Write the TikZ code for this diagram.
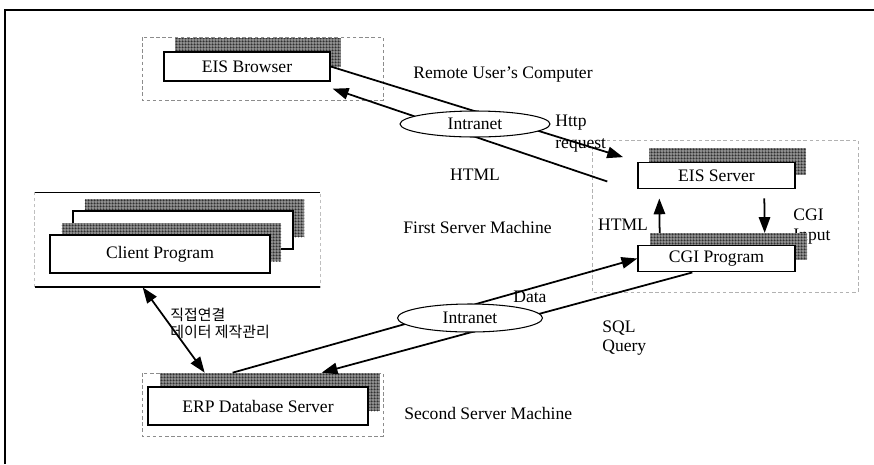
\documentclass[tikz,border=0pt]{standalone}
\usepackage{fontspec}
\setmainfont{Liberation Serif}
\newfontfamily\kofont{Noto Sans CJK KR}
\usetikzlibrary{arrows.meta,shapes.geometric,patterns.meta}

\tikzdeclarepattern{
  name=finegrid,
  type=uncolored,
  bounding box={(0pt,0pt) and (1.8pt,1.8pt)},
  tile size={(1.8pt,1.8pt)},
  code={
    \draw[line width=0.6pt] (0pt,0pt) -- (1.8pt,0pt) (0pt,0pt) -- (0pt,1.8pt);
  }
}

\begin{document}
\begin{tikzpicture}[
    x=0.02cm, y=-0.02cm,
    box/.style={draw, fill=white, line width=0.8pt, inner sep=0pt, font=\fontsize{10}{12}\selectfont},
    hatchbox/.style={preaction={fill=black!45}, pattern=finegrid, pattern color=black, inner sep=0pt},
    bsize/.style={minimum width=3.32cm, minimum height=0.58cm},
    ssize/.style={minimum width=3.14cm, minimum height=0.53cm},
    csize/.style={minimum width=4.4cm, minimum height=0.76cm},
    grpline/.style={draw=black!45, dash pattern=on 2pt off 1.5pt, line width=0.5pt},
    arrow/.style={-{Triangle[length=9pt,width=6.5pt]}, line width=1pt},
    twoway/.style={{Triangle[length=9pt,width=6.5pt]}-{Triangle[length=9pt,width=6.5pt]}, line width=1pt},
    net/.style={ellipse, draw, fill=white, line width=0.6pt, inner sep=0pt, font=\fontsize{10}{12}\selectfont},
    txt/.style={inner sep=0pt, font=\fontsize{10}{12}\selectfont},
    kotxt/.style={inner sep=0pt, align=left, font=\kofont\fontsize{8.5}{10}\selectfont}
]
\useasboundingbox (0,0) rectangle (874,464);

% outer frame
\draw[line width=0.8pt] (5,464) -- (5,10) -- (874,10);

% remote user's computer
\draw[grpline] (142,37) rectangle (383,100);
\node[hatchbox, bsize] (browsershade) at (258,52.5) {};
\node[box, bsize] (browser) at (247,66.5) {EIS Browser};
\node[txt, anchor=west] (remote) at (413,75) {Remote User's Computer};

% first server machine
\draw[grpline, draw=black!30] (592,140) rectangle (858,292);
\node[hatchbox, ssize] (eisshade) at (727.5,161.5) {};
\node[box, ssize] (eis) at (716.5,175.5) {EIS Server};
\node[txt, anchor=west] (cgiin1) at (793,215) {CGI};
\node[txt, anchor=west] (cgiin2) at (793,237) {Input};
\node[hatchbox, ssize] (cgishade) at (728.5,246.5) {};
\node[box, ssize] (cgi) at (716.5,258.5) {CGI Program};
\node[txt] (htmlup) at (623,225) {HTML};
\node[txt, anchor=west] (first) at (403,227) {First Server Machine};

% client programs
\node[minimum width=5.7cm, minimum height=1.88cm, inner sep=0pt] (clientarea) at (177.5,240) {};
\draw[grpline, draw=black!25] (clientarea.south west) rectangle (clientarea.north east);
\draw[line width=0.6pt] (clientarea.north west) -- (clientarea.north east);
\draw[line width=1pt] (clientarea.south west) -- (clientarea.south east);
\node[hatchbox, csize] (clientshadeb) at (194.5,218) {};
\node[box, csize] (clientback) at (183,230) {};
\node[hatchbox, csize] (clientshadea) at (171.5,242) {};
\node[box, csize] (client) at (160,254) {Client Program};

% second server machine
\draw[grpline] (142,373) rectangle (383,436);
\node[hatchbox, csize] (erpshade) at (270,392) {};
\node[box, csize] (erp) at (258,406) {ERP Database Server};
\node[txt, anchor=west] (second) at (404,413) {Second Server Machine};

% labels
\node[txt, anchor=west] (http1) at (555,123) {Http};
\node[txt, anchor=west] (http2) at (555,145) {request};
\node[txt] (htmlmid) at (475,175) {HTML};
\node[txt, anchor=west] (data) at (513,297) {Data};
\node[txt, anchor=west] (sql1) at (602,328) {SQL};
\node[txt, anchor=west] (sql2) at (602,348) {Query};
\node[kotxt, anchor=west] (direct) at (170,323.5) {직접연결\\데이터 제작관리};

% connectors
\draw[arrow, shorten >=8.5pt] (browser.east) -- (eis.north west);
\draw[arrow] ([shift={(-30,6)}]eis.west) -- ([shift={(2,7)}]browser.south east);
\draw[arrow] ([shift={(10,0)}]cgishade.north west) -- ([shift={(22,9)}]eis.south west);
\draw[arrow] ([shift={(127,9)}]eis.south west) -- ([shift={(115,0)}]cgishade.north west);
\draw[arrow] ([shift={(73,0)}]erpshade.north west) -- (cgi.west);
\draw[arrow] ([shift={(55,0)}]cgi.south west) -- ([shift={(162,0)}]erpshade.north west);
\draw[twoway] ([shift={(108,0)}]clientarea.south west) -- ([shift={(45,0)}]erpshade.north west);

% intranets
\node[net, minimum width=3cm, minimum height=0.52cm] (net1) at (475,124) {Intranet};
\node[net, minimum width=2.9cm, minimum height=0.56cm] (net2) at (470,318) {Intranet};
\end{tikzpicture}
\end{document}
